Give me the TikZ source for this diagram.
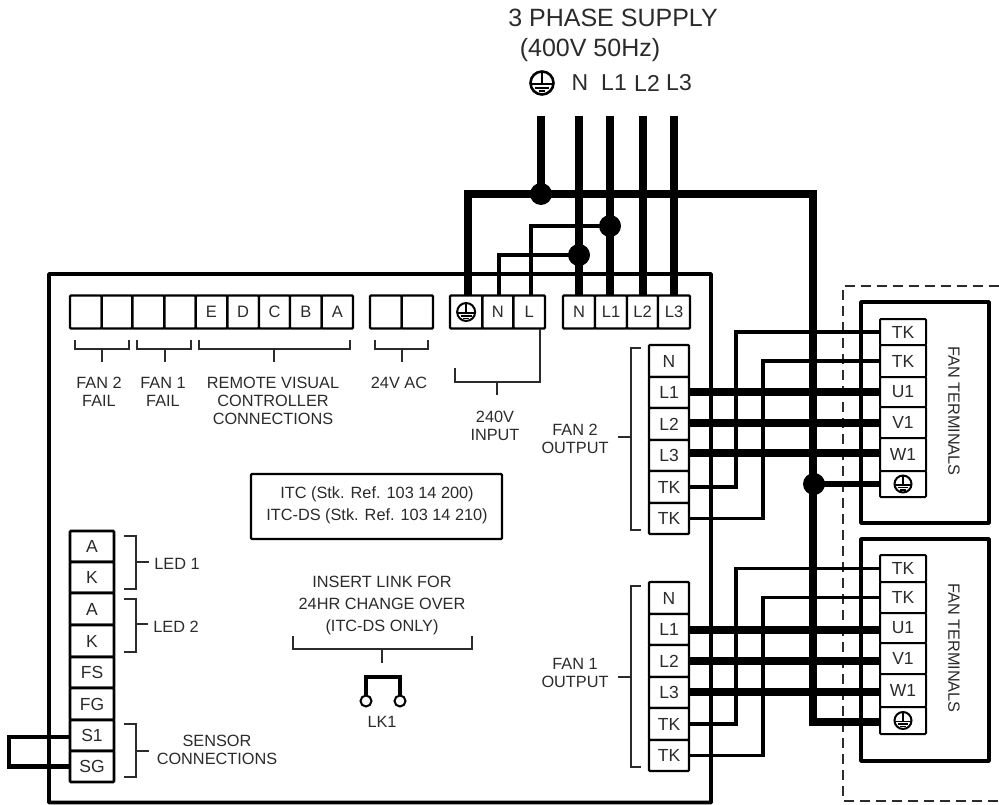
\documentclass[tikz,border=0pt]{standalone}
\usepackage{fontspec}
\setmainfont{Liberation Sans}
\usetikzlibrary{calc}
\definecolor{ink}{HTML}{2B2B2B}
\newcommand\fsz[1]{\fontsize{#1}{#1}\selectfont}
\newcommand\bx[7][]{\node[term,#1,minimum width={(#5-#3)*1pt},minimum height={(#6-#4)*1pt}] (#2) at ({(#3+#5)/2},{(#4+#6)/2}) {#7};}
\newcommand\earthlw{2}
\tikzset{
  term/.style={draw=black,line width=2.4pt,fill=white,inner sep=0pt,outer sep=0pt,rounded corners=1pt,text=ink,font=\fsz{16.5}},
  big/.style={font=\fsz{17.5}},
  plainbox/.style={fill=none,line width=3.6pt,rounded corners=0.5pt},
  lbl/.style={inner sep=0pt,text=ink,align=center,font=\fontsize{16.3}{18}\selectfont},
  head/.style={inner sep=0pt,text=ink,align=center,font=\fsz{25}},
  phase/.style={line width=7.5pt},
  bus/.style={line width=8pt},
  ctl/.style={line width=4pt},
  tkw/.style={line width=3.6pt},
  brace/.style={line width=1.8pt,draw=ink},
  dot/.style={circle,fill=black,inner sep=0pt,minimum size=22pt,outer sep=0pt},
  earthsym/.pic={
    \draw[line width=\earthlw pt,fill=white] (0,0) circle (1);
    \draw[line width=0.8*\earthlw pt] (0,-1) -- (0,0.12) (-1,0.12) -- (1,0.12) (-0.62,0.42) -- (0.62,0.42) (-0.3,0.7) -- (0.3,0.7);
  }
}
\begin{document}
\begin{tikzpicture}[x=1pt,y=-1pt]
\useasboundingbox (0,0) rectangle (999,805);
\fill[white] (0,0) rectangle (999,805);

% dashed enclosure
\coordinate (dTop) at (999,286);
\coordinate (dBot) at (999,801);
\draw[line width=2pt,draw=ink,dash pattern=on 10pt off 6pt] (dTop) -- (843,286) -- (843,801) -- (dBot);

% main board
\bx[plainbox]{board}{49}{274}{711}{802.5}{}

% supply wires
\coordinate (sE) at (541,116);
\coordinate (sN) at (579,116);
\coordinate (sA) at (610,116);
\coordinate (sB) at (643,116);
\coordinate (sC) at (674,116);
\node[dot] (dE) at (541,194) {};
\node[dot] (dA) at (610,226) {};
\node[dot] (dN) at (579,255) {};
\node[dot] (dF) at (814,484) {};

% wire height markers
\coordinate (wU2) at (0,392);
\coordinate (wV2) at (0,423);
\coordinate (wW2) at (0,453);
\coordinate (wE2) at (0,484);
\coordinate (wU1) at (0,630);
\coordinate (wV1) at (0,661);
\coordinate (wW1) at (0,692);
\coordinate (wE1) at (0,722);
\coordinate (eBend) at (468,194);
\coordinate (busR) at (813,194);
\coordinate (linkX) at (9,737);
\coordinate (nBend) at (499,255);
\coordinate (lBend) at (531,226);
\coordinate (a2) at (736,400);
\coordinate (b2) at (763,400);
\coordinate (a1) at (736,640);
\coordinate (b1) at (763,640);

% terminal blocks (drawn now so wires can use them)
\foreach \nm/\a/\b/\t in {r1/70/101.7/,r2/101.7/132.3/,r3/132.3/164.3/,r4/164.3/195.7/,rE/195.7/227.3/E,rD/227.3/259/D,rC/259/290/C,rB/290/321.7/B,rA/321.7/353/A,v1/370/401.7/,v2/401.7/433/,iE/450/482.3/,iN/482.3/513.3/N,iL/513.3/545/L,pN/563/595/N,pA/595/627/L1,pB/627/658/L2,pC/658/690/L3}
  {\bx{\nm}{\a}{295.5}{\b}{328.5}{\t}}
\foreach \nm/\a/\b/\t in {f2N/345/377/N,f2A/377/408/L1,f2B/408/440/L2,f2C/440/471/L3,f2T/471/503/TK,f2S/503/534/TK,f1N/582/614/N,f1A/614/645/L1,f1B/645/677/L2,f1C/677/708/L3,f1T/708/740/TK,f1S/740/771/TK}
  {\bx[big]{\nm}{649}{\a}{689}{\b}{\t}}
\foreach \nm/\a/\b/\t in {t2T/319/345/TK,t2S/345/377/TK,t2U/377/407/U1,t2V/407/438/V1,t2W/438/471/W1,t2E/471/497/,t1T/555/582/TK,t1S/582/613/TK,t1U/613/643/U1,t1V/643/674/V1,t1W/674/707/W1,t1E/707/734/}
  {\bx[big,line width=2pt]{\nm}{880}{\a}{926}{\b}{\t}}
\foreach \nm/\a/\b/\t in {cA/531/562/A,cK/562/593/K,dA2/593/625/A,dK/625/657/K,cFS/657/688/FS,cFG/688/720/FG,cS/720/751/S1,cG/751/782/SG}
  {\bx[big,line width=2.8pt]{\nm}{70}{\a}{114}{\b}{\t}}

% fan boxes behind wires
\begin{scope}
\bx[plainbox]{fan2}{861}{302}{989}{523}{}
\bx[plainbox]{fan1}{861}{539}{989}{761}{}
\end{scope}

% supply and bus
\draw[phase] (sE) -- (dE.center);
\draw[bus] (sN) -- (sN |- pN.north);
\draw[phase] (sA) -- (sA |- pA.north);
\draw[bus] (sB) -- (sB |- pB.north);
\draw[phase] (sC) -- (sC |- pC.north);
\draw[bus] (eBend |- iE.north) -- (eBend) -- (busR) -- (busR |- wE1) -- (t1E.west |- wE1);
\draw[ctl] (nBend |- iN.north) -- (nBend) -- (dN.center);
\draw[ctl] (lBend |- iL.north) -- (lBend) -- (dA.center);
\draw[line width=6.5pt] (dF.center) -- (t2E.west |- wE2);

% fan wires
\draw[bus] (f2A.east |- wU2) -- (t2U.west |- wU2);
\draw[bus] (f2B.east |- wV2) -- (t2V.west |- wV2);
\draw[bus] (f2C.east |- wW2) -- (t2W.west |- wW2);
\draw[bus] (f1A.east |- wU1) -- (t1U.west |- wU1);
\draw[bus] (f1B.east |- wV1) -- (t1V.west |- wV1);
\draw[bus] (f1C.east |- wW1) -- (t1W.west |- wW1);
\draw[tkw] (f2T.east) -| (a2) |- (t2T.west);
\draw[tkw] (f2S.east) -| (b2) |- (t2S.west);
\draw[tkw] (f1T.east) -| (a1) |- (t1T.west);
\draw[tkw] (f1S.east) -| (b1) |- (t1S.west);
\draw[line width=4.2pt] (cS.west |- linkX) -- (linkX) |- (cG.west);

% earth symbols
\pic[scale=9] at (iE) {earthsym};
\pic[scale=8.5] at (t2E) {earthsym};
\pic[scale=8.5] at (t1E) {earthsym};
\renewcommand\earthlw{2.6}
\pic[scale=11.5] at (542,83) {earthsym};

% braces along the top row
\draw[brace] (75,340) -- (75,349) -- (129,349) -- (129,340) (102,349) -- (102,362);
\draw[brace] (137,340) -- (137,349) -- (191,349) -- (191,340) (165,349) -- (165,362);
\draw[brace] (199,340) -- (199,349) -- (350,349) -- (350,340) (274,349) -- (274,362);
\draw[brace] (375,340) -- (375,349) -- (428,349) -- (428,340) (402,349) -- (402,362);
\draw[brace] (455,368) -- (455,382) -- (540,382) -- (iL.south -| 540,0) (497,382) -- (497,395);
% braces on the left
\draw[brace] (124,536) -- (136,536) -- (136,589) -- (124,589) (136,562) -- (149,562);
\draw[brace] (124,599) -- (136,599) -- (136,652) -- (124,652) (136,624) -- (148,624);
\draw[brace] (124,724) -- (136,724) -- (136,777) -- (124,777) (136,751) -- (149,751);
% fan output braces
\draw[brace] (641,348) -- (631,348) -- (631,530) -- (641,530) (631,437) -- (618,437);
\draw[brace] (641,586) -- (631,586) -- (631,767) -- (641,767) (631,677) -- (618,677);
% link brace
\draw[brace] (293,636) -- (293,649) -- (472,649) -- (472,636) (382,649) -- (382,663);

% link LK1
\node[circle,draw=black,line width=2pt,minimum size=11pt,inner sep=0pt,outer sep=0pt,fill=white] (lkL) at (366,701) {};
\node[circle,draw=black,line width=2pt,minimum size=11pt,inner sep=0pt,outer sep=0pt,fill=white] (lkR) at (400,701) {};
\coordinate (lkTop) at (383,677);
\draw[line width=4.5pt] (lkL.north) -- (lkL.north |- lkTop) -- (lkR.north |- lkTop) -- (lkR.north);

% info box
\bx[line width=2.4pt]{info}{251}{474}{502}{539}{}

% texts
\node[head] (tSup) at (613,18) {3 PHASE SUPPLY};
\node[head] (tV) at (590,50) {(400V 50Hz)};
\node[head,font=\fsz{23}] (tN) at (580,83) {N};
\node[head,font=\fsz{23}] (tL1) at (614,83) {L1};
\node[head,font=\fsz{23}] (tL2) at (647,83) {L2};
\node[head,font=\fsz{23}] (tL3) at (679,83) {L3};
\node[lbl] (l1) at (99,392) {FAN 2\\FAIL};
\node[lbl] (l2) at (163,392) {FAN 1\\FAIL};
\node[lbl] (l3) at (273,401) {REMOTE VISUAL\\CONTROLLER\\CONNECTIONS};
\node[lbl] (l4) at (399,383) {24V AC};
\node[lbl] (l5) at (495,426) {240V\\INPUT};
\node[lbl] (l6) at (575,439) {FAN 2\\OUTPUT};
\node[lbl] (l7) at (575,673) {FAN 1\\OUTPUT};
\node[lbl] (l8) at (177,564) {LED 1};
\node[lbl] (l9) at (176,627) {LED 2};
\node[lbl] (l10) at (217,750) {SENSOR\\CONNECTIONS};
\node[lbl] (l11) at (377,505) {ITC (Stk. Ref. 103 14 200)\\[4pt]ITC-DS (Stk. Ref. 103 14 210)};
\node[lbl] (l12) at (382,605) {INSERT LINK FOR\\[4pt]24HR CHANGE OVER\\[4pt](ITC-DS ONLY)};
\node[lbl] (l13) at (382,722) {LK1};
\node[lbl,rotate=-90] (l14) at (954,411) {FAN TERMINALS};
\node[lbl,rotate=-90] (l15) at (954,648) {FAN TERMINALS};
\end{tikzpicture}
\end{document}
